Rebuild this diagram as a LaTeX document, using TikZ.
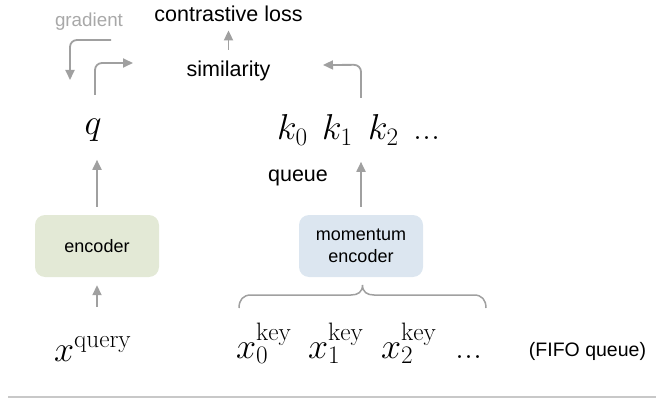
\RequirePackage{fix-cm}
\documentclass[tikz,border=0pt]{standalone}
\usepackage{fontspec}
\newfontfamily\arialf{Liberation Sans}
\usetikzlibrary{arrows.meta,calc}
\definecolor{arrgray}{HTML}{A0A0A0}
\definecolor{gradgray}{HTML}{A8A8A8}
\definecolor{encgreen}{HTML}{E3E9D6}
\definecolor{encblue}{HTML}{DCE6F0}
\definecolor{linegray}{HTML}{C8C8C8}
\begin{document}
\begin{tikzpicture}[x=1pt,y=-1pt,
  lbl/.style={inner sep=0pt,font=\arialf\fontsize{21.5}{24}\selectfont},
  gradlbl/.style={inner sep=0pt,text=gradgray,font=\arialf\fontsize{18.8}{22}\selectfont},
  fifolbl/.style={inner sep=0pt,font=\arialf\fontsize{19.5}{22}\selectfont},
  mth/.style={inner sep=0pt,font=\fontsize{36}{40}\selectfont},
  encbox/.style={rounded corners=10pt,minimum width=124pt,minimum height=62pt,inner sep=0pt,
    align=center,font=\arialf\fontsize{18}{22}\selectfont},
  arr/.style={draw=arrgray,line width=1.8pt,rounded corners=7pt,
    -{Triangle[length=10pt,width=9pt]}},
  bracestyle/.style={draw=arrgray,line width=1.5pt}
]
\useasboundingbox (0,0) rectangle (656,401);

% text labels
\node[lbl,anchor=base] (loss) at (228.5,21.5) {contrastive loss};
\node[lbl,anchor=base] (sim) at (228.5,76.5) {similarity};
\node[gradlbl,anchor=base] (gradtxt) at (89,27) {gradient};
\node[lbl,anchor=base] (queuetxt) at (298,182) {queue};
\node[fifolbl,anchor=base] (fifo) at (587.5,356) {(FIFO queue)};

% encoders
\node[encbox,fill=encgreen] (enc) at (97,246) {encoder};
\node[encbox,fill=encblue] (menc) at (361,246) {momentum\\encoder};

% math
\node[mth,anchor=base] (q) at (93,135) {$q$};
\node[mth,anchor=base west] (k0) at (277,140) {$k_0$};
\node[mth,anchor=base west] (k1) at (322,140) {$k_1$};
\node[mth,anchor=base west] (k2) at (368,140) {$k_2$};
\node[mth,anchor=base west] (kdots) at (413,140) {...};

\node[mth,anchor=base west] (xq) at (54,361) {$x^{\mathrm{query}}$};
\node[mth,anchor=base west] (x0) at (236,358) {$x_0^{\mathrm{key}}$};
\node[mth,anchor=base west] (x1) at (308,358) {$x_1^{\mathrm{key}}$};
\node[mth,anchor=base west] (x2) at (381,358) {$x_2^{\mathrm{key}}$};
\node[mth,anchor=base west] (xdots) at (455,358) {...};

% gradient / forward arrows
\coordinate (g1) at (111,40);
\coordinate (g2) at (70,40);
\coordinate (g3) at (70,80);
\draw[arr] (g1) -- (g2) -- (g3);
\coordinate (f1) at (95,95);
\coordinate (f2) at (95,63);
\coordinate (f3) at (133,63);
\draw[arr] (f1) -- (f2) -- (f3);

% similarity -> loss
\draw[arr] ($(sim.north)+(0,-11)$) -- ($(loss.south)+(0,8.5)$);

% k -> similarity
\coordinate (kc) at ($(menc.north)+(0,-150)$);
\coordinate (ktip) at (323,65);
\draw[arr] ($(menc.north)+(0,-117)$) -- (kc) -- (ktip);

% encoder arrows
\draw[arr] ($(enc.north)+(0,-8)$) -- ($(enc.north)+(0,-55)$);
\draw[arr] ($(enc.south)+(0,30)$) -- ($(enc.south)+(0,8)$);
\draw[arr] ($(menc.north)+(0,-8)$) -- ($(menc.north)+(0,-53)$);

% brace
\draw[bracestyle] (239,308) .. controls (239,300) and (243,295) .. (251,295)
  -- (351,295) .. controls (358,295) and (362.5,292) .. (362.5,285)
  .. controls (362.5,292) and (367,295) .. (374,295)
  -- (474,295) .. controls (482,295) and (486,300) .. (486,308);

% bottom rule
\draw[linegray,line width=2pt] (8,397) -- (656,397);
\end{tikzpicture}
\end{document}
